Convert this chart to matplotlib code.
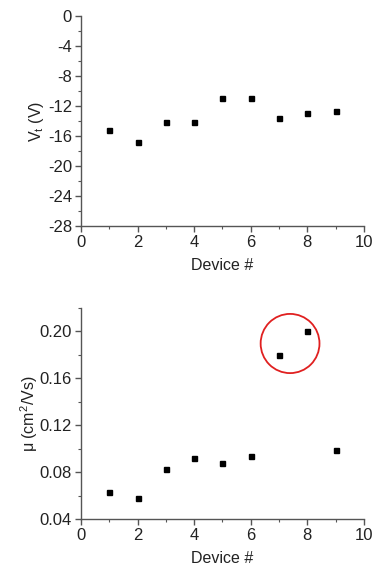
import matplotlib
matplotlib.use("Agg")
import matplotlib.pyplot as plt
from matplotlib.patches import Ellipse
from matplotlib.ticker import MultipleLocator, FormatStrFormatter

plt.rcParams['font.family'] = ['Liberation Sans', 'DejaVu Sans']
plt.rcParams['axes.unicode_minus'] = False
plt.rcParams['mathtext.default'] = 'regular'

# device numbers
devices = [1, 2, 3, 4, 5, 6, 7, 8, 9]
# threshold voltage (V)
vt = [-15.2, -16.8, -14.2, -14.1, -11.0, -10.9, -13.6, -12.9, -12.7]
# mobility (cm^2/Vs)
mu = [0.063, 0.058, 0.083, 0.092, 0.088, 0.094, 0.180, 0.200, 0.099]

axis_color = '#555555'
text_color = '#222222'


def styleAxis(ax):
    for side in ['top', 'right']:
        ax.spines[side].set_visible(False)
    for side in ['left', 'bottom']:
        ax.spines[side].set_color(axis_color)
        ax.spines[side].set_linewidth(1.0)
    ax.tick_params(which='major', direction='out', length=4, width=1.0,
                   color=axis_color, labelsize=12, labelcolor=text_color, pad=2.5)
    ax.tick_params(which='minor', direction='out', length=2, width=0.8,
                   color=axis_color)
    ax.set_xlim(0, 10)
    ax.xaxis.set_major_locator(MultipleLocator(2))
    ax.xaxis.set_minor_locator(MultipleLocator(1))
    ax.set_xlabel("Device #", fontsize=11.5, color=text_color, labelpad=6)


fig = plt.figure(figsize=(3.74, 5.67), dpi=100)

# top panel: Vt
ax1 = fig.add_axes([0.2166, 0.6014, 0.7564, 0.3704])
ax1.plot(devices, vt, linestyle='none', marker='s', markersize=3.6, color='black')
ax1.set_ylim(-28, 0)
ax1.yaxis.set_major_locator(MultipleLocator(4))
ax1.yaxis.set_minor_locator(MultipleLocator(2))
ax1.set_ylabel(r"V$_t$ (V)", fontsize=11.5, color=text_color, labelpad=1)
styleAxis(ax1)

# bottom panel: mobility
ax2 = fig.add_axes([0.2166, 0.0847, 0.7564, 0.3721])
ax2.plot(devices, mu, linestyle='none', marker='s', markersize=3.6, color='black')
ax2.set_ylim(0.04, 0.22)
ax2.yaxis.set_major_locator(MultipleLocator(0.04))
ax2.yaxis.set_minor_locator(MultipleLocator(0.02))
ax2.yaxis.set_major_formatter(FormatStrFormatter('%.2f'))
ax2.set_ylabel("\u03bc (cm$^2$/Vs)", fontsize=11.5, color=text_color, labelpad=0)
styleAxis(ax2)

# red circle around the two outliers
ax2.add_patch(Ellipse((7.39, 0.1897), width=2.08, height=0.0505,
                      fill=False, edgecolor='#e02020', linewidth=1.3,
                      clip_on=False))

fig.savefig('out.png', dpi=100)
